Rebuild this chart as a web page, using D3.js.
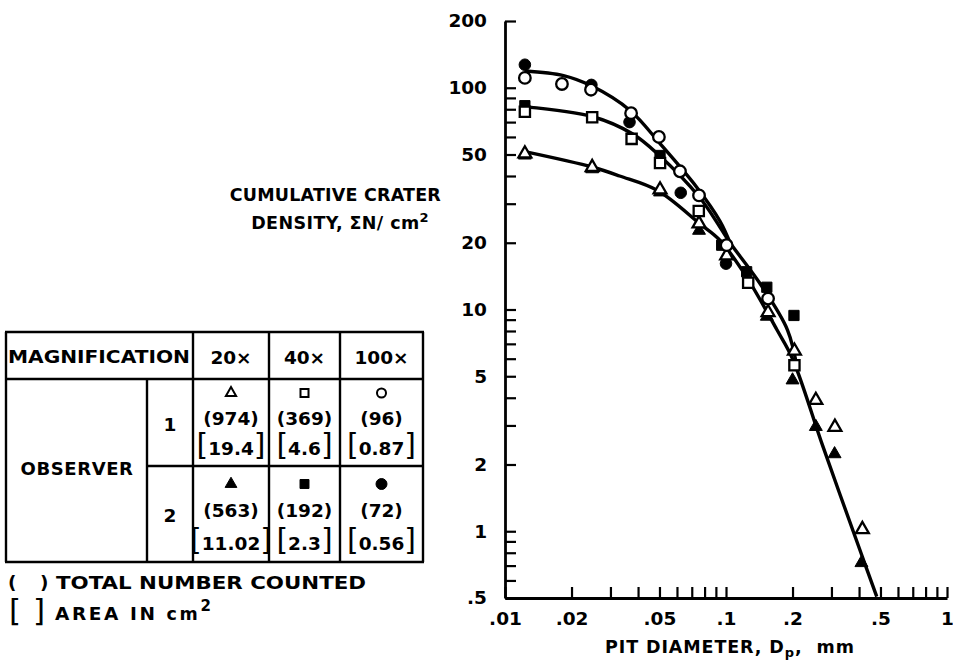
<!DOCTYPE html>
<html>
<head>
<meta charset="UTF-8" />
<title>Cumulative crater density vs pit diameter</title>
<script src="https://d3js.org/d3.v7.min.js"></script>
<style>
    body { margin: 0; background: white; }
    svg text { font-family: "DejaVu Sans", sans-serif; font-weight: bold; fill: black; }
    .curve { fill: none; stroke: black; stroke-width: 3.4; }
    .tbl line { stroke: black; stroke-width: 2.4; }
</style>
</head>
<body>
<svg width="953" height="661"></svg>
<script>
// axis ticks
const xMajor = [0.01, 0.02, 0.05, 0.1, 0.2, 0.5, 1];
const xMajorLabels = [".01", ".02", ".05", ".1", ".2", ".5", "1"];
const xMinor = [0.03, 0.04, 0.06, 0.07, 0.08, 0.09, 0.3, 0.4, 0.6, 0.7, 0.8, 0.9];
const yMajor = [0.5, 1, 2, 5, 10, 20, 50, 100, 200];
const yMajorLabels = [".5", "1", "2", "5", "10", "20", "50", "100", "200"];
const yMinor = [0.6, 0.7, 0.8, 0.9, 3, 4, 6, 7, 8, 9, 30, 40, 60, 70, 80, 90];

// measured points [diameter mm, density per cm2]
// observer 1
const obs1_20x = [[0.0123, 50.4], [0.0248, 43.8], [0.0503, 34.7], [0.0755, 24.4], [0.1007, 17.5],
    [0.155, 9.7], [0.204, 6.5], [0.255, 3.9], [0.311, 2.95], [0.414, 1.02]];
const obs1_40x = [[0.0123, 78], [0.0248, 73.6], [0.0374, 58.8], [0.0503, 45.8], [0.0753, 27.8],
    [0.126, 13.2], [0.204, 5.6]];
const obs1_100x = [[0.0123, 110.8], [0.0181, 104], [0.0245, 98], [0.0372, 76.8], [0.0497, 60],
    [0.0619, 42], [0.0755, 32.7], [0.1007, 19.5], [0.155, 11.2]];
// observer 2
const obs2_20x = [[0.0123, 49.6], [0.0248, 43.0], [0.0503, 33.8], [0.0755, 22.7], [0.153, 9.3],
    [0.2, 4.8], [0.255, 2.96], [0.31, 2.23], [0.41, 0.72]];
const obs2_40x = [[0.0123, 83], [0.0503, 49.5], [0.0956, 19.5], [0.124, 14.8], [0.153, 12.6], [0.203, 9.4]];
const obs2_100x = [[0.0123, 127], [0.0246, 103], [0.0366, 70], [0.0624, 33.6], [0.1, 16.1]];

// faired curves
const curve100x = [[0.0123, 119], [0.0184, 113.5], [0.0246, 102], [0.0368, 79], [0.0503, 56],
    [0.0737, 35.6], [0.094, 25], [0.1043, 20]];
const curve40x = [[0.0123, 82], [0.025, 74], [0.0377, 62], [0.0494, 50], [0.076, 32], [0.094, 23.5],
    [0.1043, 20], [0.1425, 13.1], [0.19, 8.06], [0.21, 5.4]];
const curve20x = [[0.0123, 51.5], [0.025, 43.8], [0.033, 40], [0.049, 34.4], [0.076, 24.4], [0.094, 20.5],
    [0.124, 14.0], [0.17, 8.1], [0.2, 6.0], [0.275, 2.40], [0.414, 0.767], [0.481, 0.507]];

// table contents
const magnifications = ["20×", "40×", "100×"];
const observers = ["1", "2"];
const counts = [["(974)", "(369)", "(96)"], ["(563)", "(192)", "(72)"]];
const areas = [["19.4", "4.6", "0.87"], ["11.02", "2.3", "0.56"]];

const svg = d3.select("svg");
const x = d3.scaleLog().domain([0.01, 1]).range([505, 947]);
const y = d3.scaleLog().domain([0.5, 200]).range([598, 21]);

// y axis (ticks point inward)
svg.append("g").attr("transform", "translate(505,0)")
    .call(d3.axisLeft(y).tickValues(yMajor).tickFormat((d, i) => yMajorLabels[i])
        .tickSizeInner(-11).tickSizeOuter(0).tickPadding(18));
svg.append("g").attr("transform", "translate(505,0)")
    .call(d3.axisLeft(y).tickValues(yMinor).tickFormat("").tickSizeInner(-11).tickSizeOuter(0))
    .select(".domain").remove();

// x axis
svg.append("g").attr("transform", "translate(0,598)")
    .call(d3.axisBottom(x).tickValues(xMajor).tickFormat((d, i) => xMajorLabels[i])
        .tickSizeInner(-11).tickSizeOuter(0).tickPadding(14));
svg.append("g").attr("transform", "translate(0,598)")
    .call(d3.axisBottom(x).tickValues(xMinor).tickFormat("").tickSizeInner(-11).tickSizeOuter(0))
    .select(".domain").remove();

svg.selectAll(".domain").attr("stroke-width", 2.8);
svg.selectAll(".tick line").attr("stroke-width", 2.2);
svg.selectAll(".tick text").attr("font-size", 18.5);

// axis titles
svg.append("text").attr("x", 441).attr("y", 201).attr("text-anchor", "end")
    .attr("font-size", 17.5).attr("letter-spacing", 0.2).text("CUMULATIVE CRATER");
const yt2 = svg.append("text").attr("x", 429).attr("y", 229).attr("text-anchor", "end")
    .attr("font-size", 17.5).attr("letter-spacing", 0.4);
yt2.append("tspan").text("DENSITY, ΣN/ cm");
yt2.append("tspan").attr("dy", -7).attr("font-size", 13).text("2");

const xt = svg.append("text").attr("x", 605).attr("y", 653)
    .attr("font-size", 17.5).attr("letter-spacing", 0.9);
xt.append("tspan").text("PIT DIAMETER, D");
xt.append("tspan").attr("dy", 4).attr("font-size", 13).text("p");
xt.append("tspan").attr("dy", -4).text(",");
xt.append("tspan").attr("dx", 14).text("mm");

// faired curves
const line = d3.line().x(d => x(d[0])).y(d => y(d[1])).curve(d3.curveCatmullRom.alpha(0.5));
[curve20x, curve40x, curve100x].forEach(c => {
    svg.append("path").attr("class", "curve").attr("d", line(c));
});

// markers
const symTri = d3.symbol().type(d3.symbolTriangle).size(72);
const symSq = d3.symbol().type(d3.symbolSquare).size(105);
const symCirc = d3.symbol().type(d3.symbolCircle).size(105);

function drawMarks(data, sym, filled) {
    svg.append("g").selectAll("path").data(data).enter().append("path")
        .attr("transform", d => "translate(" + x(d[0]) + "," + y(d[1]) + ")")
        .attr("d", sym)
        .attr("fill", filled ? "black" : "white")
        .attr("stroke", "black")
        .attr("stroke-width", filled ? 1 : 2.3);
}
drawMarks(obs2_20x, symTri, true);
drawMarks(obs2_40x, symSq, true);
drawMarks(obs2_100x, symCirc, true);
drawMarks(obs1_20x, symTri, false);
drawMarks(obs1_40x, symSq, false);
drawMarks(obs1_100x, symCirc, false);

// legend table
const tbl = svg.append("g").attr("class", "tbl");
const colX = [6, 147, 193, 269, 340, 423];
const rowY = [332, 379, 466, 562];
function hline(x1, x2, yy) { tbl.append("line").attr("x1", x1).attr("x2", x2).attr("y1", yy).attr("y2", yy); }
function vline(xx, y1, y2) { tbl.append("line").attr("x1", xx).attr("x2", xx).attr("y1", y1).attr("y2", y2); }
hline(colX[0] - 1, colX[5] + 1, rowY[0]);
hline(colX[0] - 1, colX[5] + 1, rowY[1]);
hline(colX[1], colX[5], rowY[2]);
hline(colX[0] - 1, colX[5] + 1, rowY[3]);
vline(colX[0], rowY[0], rowY[3]);
vline(colX[1], rowY[1], rowY[3]);
[2, 3, 4, 5].forEach(i => vline(colX[i], rowY[0], rowY[3]));

tbl.append("text").attr("x", 8).attr("y", 363).attr("font-size", 18.5)
    .attr("textLength", 182).attr("lengthAdjust", "spacingAndGlyphs").text("MAGNIFICATION");
const colMid = [0, 1, 2].map(i => (colX[i + 2] + colX[i + 3]) / 2);
tbl.selectAll(".mag").data(magnifications).enter().append("text")
    .attr("x", (d, i) => colMid[i]).attr("y", 364).attr("text-anchor", "middle")
    .attr("font-size", 18.5).text(d => d);
tbl.append("text").attr("x", 77).attr("y", 475).attr("text-anchor", "middle")
    .attr("font-size", 18).attr("letter-spacing", 0.6).text("OBSERVER");

const symRowY = [393, 484], countY = [425, 517], areaY = [455, 550], obsY = [431, 522];
const tblSyms = [
    [d3.symbol().type(d3.symbolTriangle).size(45), d3.symbol().type(d3.symbolSquare).size(64), d3.symbol().type(d3.symbolCircle).size(64)],
    [d3.symbol().type(d3.symbolTriangle).size(60), d3.symbol().type(d3.symbolSquare).size(80), d3.symbol().type(d3.symbolCircle).size(95)]
];
observers.forEach((ob, r) => {
    tbl.append("text").attr("x", 170).attr("y", obsY[r]).attr("text-anchor", "middle")
        .attr("font-size", 18.5).text(ob);
    [0, 1, 2].forEach(c => {
        tbl.append("path").attr("transform", "translate(" + colMid[c] + "," + symRowY[r] + ")")
            .attr("d", tblSyms[r][c]).attr("fill", r === 0 ? "white" : "black")
            .attr("stroke", "black").attr("stroke-width", r === 0 ? 2 : 1);
        tbl.append("text").attr("x", colMid[c]).attr("y", countY[r]).attr("text-anchor", "middle")
            .attr("font-size", 18.5).text(counts[r][c]);
        const t = tbl.append("text").attr("x", colMid[c]).attr("y", areaY[r]).attr("text-anchor", "middle")
            .attr("font-size", 18.5);
        t.append("tspan").attr("font-size", 30).attr("font-weight", "normal").text("[");
        t.append("tspan").text(areas[r][c]);
        t.append("tspan").attr("font-size", 30).attr("font-weight", "normal").text("]");
    });
});

// notes under table
svg.append("text").attr("x", 8).attr("y", 589).attr("font-size", 18.5).text("(");
svg.append("text").attr("x", 40).attr("y", 589).attr("font-size", 18.5).text(")");
svg.append("text").attr("x", 56).attr("y", 589).attr("font-size", 18)
    .attr("textLength", 310).attr("lengthAdjust", "spacingAndGlyphs").text("TOTAL NUMBER COUNTED");
svg.append("text").attr("x", 9).attr("y", 621).attr("font-size", 31).style("font-weight", "normal").text("[");
svg.append("text").attr("x", 33).attr("y", 621).attr("font-size", 31).style("font-weight", "normal").text("]");
const ar = svg.append("text").attr("x", 55).attr("y", 620).attr("font-size", 18.5).attr("letter-spacing", 2.6);
ar.append("tspan").text("AREA IN ");
ar.append("tspan").attr("font-size", 17.5).text("cm");
ar.append("tspan").attr("dy", -9).attr("font-size", 15).text("2");
</script>
</body>
</html>
